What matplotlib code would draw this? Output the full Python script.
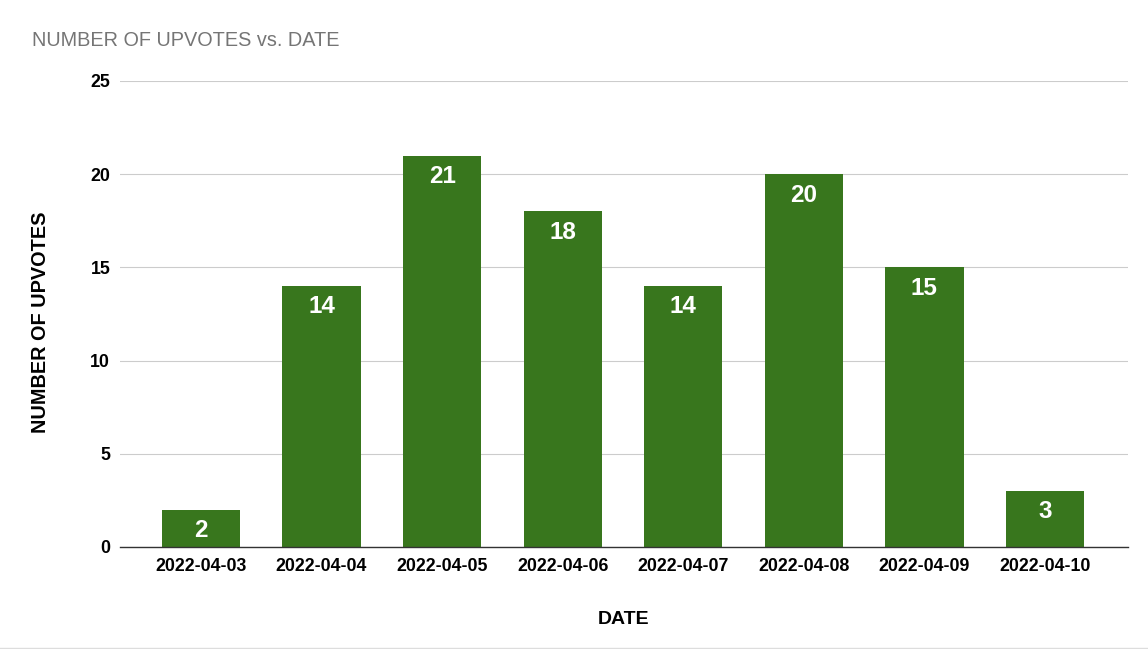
import matplotlib
matplotlib.use("Agg")
import matplotlib.pyplot as plt
from matplotlib.lines import Line2D

dates = ["2022-04-03", "2022-04-04", "2022-04-05", "2022-04-06",
         "2022-04-07", "2022-04-08", "2022-04-09", "2022-04-10"]
upvotes = [2, 14, 21, 18, 14, 20, 15, 3]
yticks = [0, 5, 10, 15, 20, 25]

plt.rcParams['font.family'] = ['Liberation Sans', 'DejaVu Sans']

fig = plt.figure(figsize=(11.48, 6.49), dpi=100)
ax = fig.add_axes([0.1045, 0.1572, 0.878, 0.718])

x = list(range(len(dates)))
bars = ax.bar(x, upvotes, width=0.65, color="#38761d", zorder=3)

for xi, v in zip(x, upvotes):
    ax.annotate(str(v), (xi, v), xytext=(0, -15), textcoords="offset points",
                ha="center", va="center", color="white", fontsize=17.5,
                fontweight="bold", zorder=4)

ax.set_xlim(-0.672, 7.688)
ax.set_ylim(0, 25)
ax.set_yticks(yticks)
ax.set_xticks(x)
ax.set_xticklabels(dates, fontsize=12.8, fontweight="bold")
for lab in ax.get_yticklabels():
    lab.set_fontsize(12.8)
    lab.set_fontweight("bold")
ax.yaxis.grid(True, color="#cccccc", linewidth=0.8, zorder=0)
ax.tick_params(axis="x", length=0, pad=8)
ax.tick_params(axis="y", length=0, pad=7)
for s in ["top", "right", "left"]:
    ax.spines[s].set_visible(False)
ax.spines["bottom"].set_color("#333333")
ax.spines["bottom"].set_linewidth(1.0)
ax.spines["bottom"].set_zorder(5)

ax.set_xlabel("DATE", fontsize=14, fontweight="bold", labelpad=26)
ax.set_ylabel("NUMBER OF UPVOTES", fontsize=14.3, fontweight="bold")
ax.yaxis.set_label_coords(-(120 - 50) / (0.878 * 1148), 0.482)

fig.text(32 / 1148, 1 - 40 / 649, "NUMBER OF UPVOTES vs. DATE", fontsize=14.3,
         color="#757575", ha="left", va="center")

fig.add_artist(Line2D([0, 1], [1 - 647.5 / 649] * 2, color="#dddddd", linewidth=1,
                      transform=fig.transFigure))

fig.savefig("out.png", dpi=100)
